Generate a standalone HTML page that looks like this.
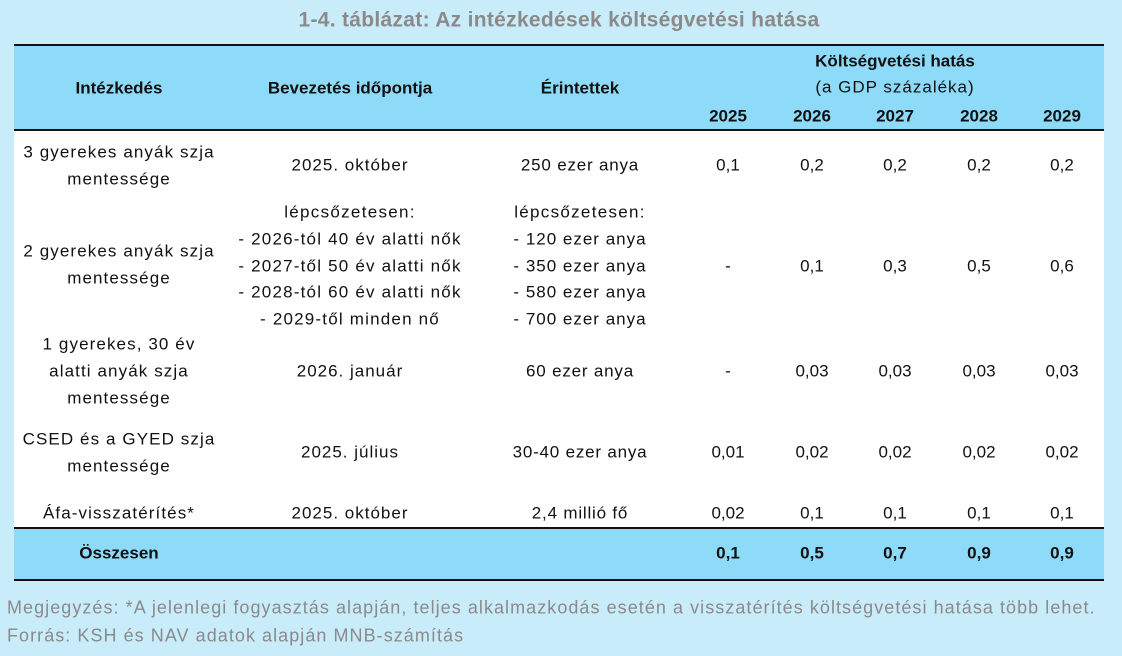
<!DOCTYPE html>
<html><head><meta charset="utf-8"><style>
body{margin:0;width:1122px;height:656px;background:#c9ecfb;position:relative;overflow:hidden;font-family:"Liberation Sans",sans-serif;color:#111}
.t{position:absolute;transform:translate(-50%,-50%);white-space:nowrap;font-size:17px;line-height:1}
.b{font-weight:bold;font-size:17px}
.box{position:absolute;left:14px;width:1090px}
.note{position:absolute;left:7px;font-size:18px;letter-spacing:1.05px;color:#8a8a8a;white-space:nowrap;transform:translateY(-50%)}
</style></head><body>
<div class="box" style="top:44px;height:87px;background:#8ddaf9;border-top:2px solid #111;border-bottom:2px solid #111;box-sizing:border-box"></div>
<div class="box" style="top:131px;height:397px;background:#fff"></div>
<div class="box" style="top:527px;height:54px;background:#8ddaf9;border-top:2px solid #111;border-bottom:2px solid #111;box-sizing:border-box"></div>
<div class="t" style="left:559px;top:20px;font-weight:bold;font-size:21px;letter-spacing:0.3px;color:#8a8a8a">1-4. táblázat: Az intézkedések költségvetési hatása</div>

<div class="t b" style="left:119px;top:88px">Intézkedés</div>
<div class="t b" style="left:350px;top:88px">Bevezetés időpontja</div>
<div class="t b" style="left:580px;top:88px">Érintettek</div>
<div class="t b" style="left:895px;top:61px">Költségvetési hatás</div>
<div class="t" style="left:895px;top:87px;letter-spacing:1px">(a GDP százaléka)</div>
<div class="t b" style="left:728px;top:116px">2025</div>
<div class="t b" style="left:812px;top:116px">2026</div>
<div class="t b" style="left:895px;top:116px">2027</div>
<div class="t b" style="left:979px;top:116px">2028</div>
<div class="t b" style="left:1062px;top:116px">2029</div>

<div class="t" style="left:119px;top:152px;letter-spacing:1.1px">3 gyerekes anyák szja</div>
<div class="t" style="left:119px;top:179px;letter-spacing:1.1px">mentessége</div>
<div class="t" style="left:350px;top:165px;letter-spacing:1px">2025. október</div>
<div class="t" style="left:580px;top:165px;letter-spacing:0.8px">250 ezer anya</div>
<div class="t" style="left:728px;top:165px">0,1</div><div class="t" style="left:812px;top:165px">0,2</div><div class="t" style="left:895px;top:165px">0,2</div><div class="t" style="left:979px;top:165px">0,2</div><div class="t" style="left:1062px;top:165px">0,2</div>

<div class="t" style="left:119px;top:251px;letter-spacing:1.1px">2 gyerekes anyák szja</div>
<div class="t" style="left:119px;top:278px;letter-spacing:1.1px">mentessége</div>
<div class="t" style="left:350px;top:212px;letter-spacing:1.3px">lépcsőzetesen:</div>
<div class="t" style="left:350px;top:239px;letter-spacing:1.2px">- 2026-tól 40 év alatti nők</div>
<div class="t" style="left:350px;top:266px;letter-spacing:1.2px">- 2027-től 50 év alatti nők</div>
<div class="t" style="left:350px;top:292px;letter-spacing:1.2px">- 2028-tól 60 év alatti nők</div>
<div class="t" style="left:350px;top:319px;letter-spacing:1.2px">- 2029-től minden nő</div>
<div class="t" style="left:580px;top:212px;letter-spacing:1.3px">lépcsőzetesen:</div>
<div class="t" style="left:580px;top:239px;letter-spacing:1px">- 120 ezer anya</div>
<div class="t" style="left:580px;top:266px;letter-spacing:1px">- 350 ezer anya</div>
<div class="t" style="left:580px;top:292px;letter-spacing:1px">- 580 ezer anya</div>
<div class="t" style="left:580px;top:319px;letter-spacing:1px">- 700 ezer anya</div>
<div class="t" style="left:728px;top:266px">-</div><div class="t" style="left:812px;top:266px">0,1</div><div class="t" style="left:895px;top:266px">0,3</div><div class="t" style="left:979px;top:266px">0,5</div><div class="t" style="left:1062px;top:266px">0,6</div>

<div class="t" style="left:119px;top:344px;letter-spacing:1.1px">1 gyerekes, 30 év</div>
<div class="t" style="left:119px;top:371px;letter-spacing:1.1px">alatti anyák szja</div>
<div class="t" style="left:119px;top:398px;letter-spacing:1.1px">mentessége</div>
<div class="t" style="left:350px;top:371px;letter-spacing:1px">2026. január</div>
<div class="t" style="left:580px;top:371px;letter-spacing:0.8px">60 ezer anya</div>
<div class="t" style="left:728px;top:371px">-</div><div class="t" style="left:812px;top:371px">0,03</div><div class="t" style="left:895px;top:371px">0,03</div><div class="t" style="left:979px;top:371px">0,03</div><div class="t" style="left:1062px;top:371px">0,03</div>

<div class="t" style="left:119px;top:439px;letter-spacing:1.1px">CSED és a GYED szja</div>
<div class="t" style="left:119px;top:466px;letter-spacing:1.1px">mentessége</div>
<div class="t" style="left:350px;top:452px;letter-spacing:1px">2025. július</div>
<div class="t" style="left:580px;top:452px;letter-spacing:0.8px">30-40 ezer anya</div>
<div class="t" style="left:728px;top:452px">0,01</div><div class="t" style="left:812px;top:452px">0,02</div><div class="t" style="left:895px;top:452px">0,02</div><div class="t" style="left:979px;top:452px">0,02</div><div class="t" style="left:1062px;top:452px">0,02</div>

<div class="t" style="left:119px;top:513px;letter-spacing:1.1px">Áfa-visszatérítés*</div>
<div class="t" style="left:350px;top:513px;letter-spacing:1px">2025. október</div>
<div class="t" style="left:580px;top:513px;letter-spacing:0.8px">2,4 millió fő</div>
<div class="t" style="left:728px;top:513px">0,02</div><div class="t" style="left:812px;top:513px">0,1</div><div class="t" style="left:895px;top:513px">0,1</div><div class="t" style="left:979px;top:513px">0,1</div><div class="t" style="left:1062px;top:513px">0,1</div>

<div class="t b" style="left:119px;top:553px">Összesen</div>
<div class="t b" style="left:728px;top:553px">0,1</div><div class="t b" style="left:812px;top:553px">0,5</div><div class="t b" style="left:895px;top:553px">0,7</div><div class="t b" style="left:979px;top:553px">0,9</div><div class="t b" style="left:1062px;top:553px">0,9</div>

<div class="note" style="top:608px">Megjegyzés: *A jelenlegi fogyasztás alapján, teljes alkalmazkodás esetén a visszatérítés költségvetési hatása több lehet.</div>
<div class="note" style="top:636px">Forrás: KSH és NAV adatok alapján MNB-számítás</div>
</body></html>
